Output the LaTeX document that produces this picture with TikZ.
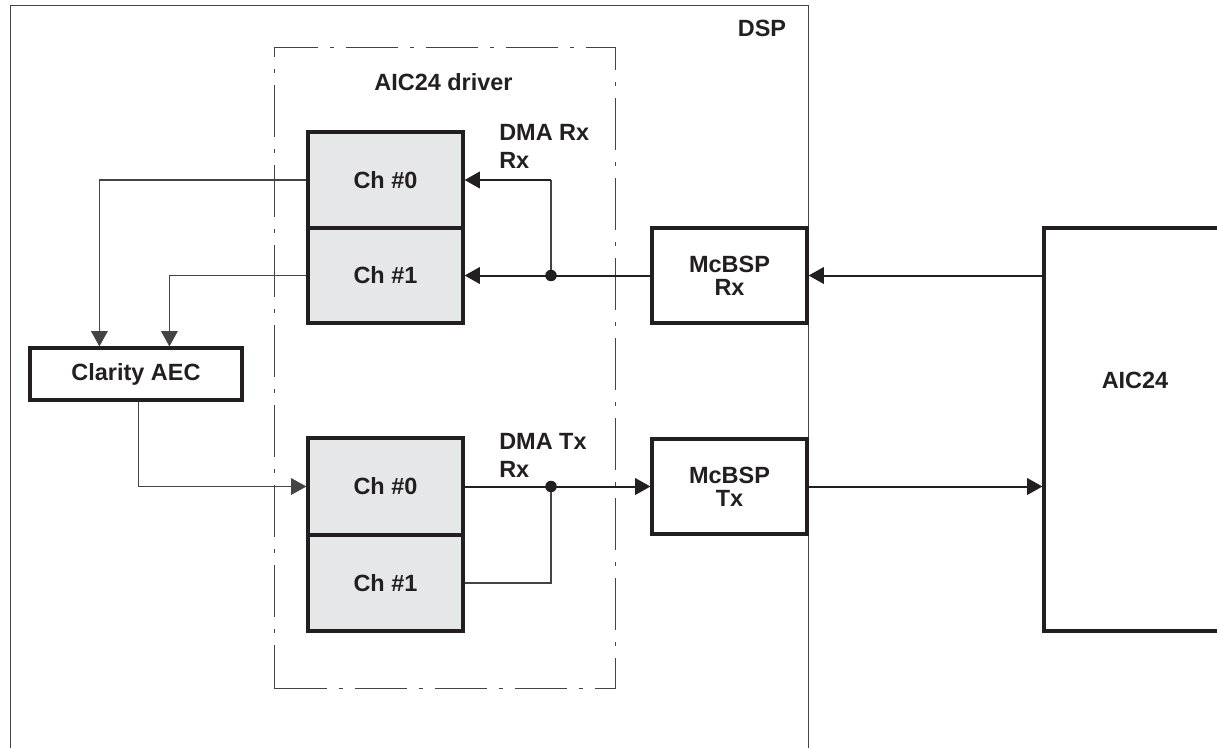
\documentclass[tikz,border=0pt]{standalone}
\usepackage{fontspec}
\setmainfont{Liberation Sans}
\usetikzlibrary{arrows.meta,calc}
\definecolor{ink}{HTML}{231F20}
\definecolor{chfill}{HTML}{E6E7E8}
\definecolor{lgray}{HTML}{444444}
\begin{document}
\begin{tikzpicture}[x=0.75pt,y=-0.75pt,
  font=\fontsize{17.6}{17.5}\selectfont\bfseries,
  box/.style={draw=ink,line width=2.4pt,inner sep=0pt,align=center,text=ink},
  chbox/.style={box,fill=chfill,minimum width={155*0.75pt}},
  mcbox/.style={box,fill=white,minimum width={155*0.75pt}},
  container/.style={draw=lgray,line width=0.8pt,inner sep=0pt},
  driverbox/.style={draw=lgray,line width=0.8pt,inner sep=0pt,dash pattern=on 39pt off 9pt on 3pt off 9pt},
  lbl/.style={text=ink,inner sep=0pt},
  dmalbl/.style={lbl,align=left,font=\fontsize{17.6}{21}\selectfont\bfseries},
  sig/.style={draw=ink,line width=1.5pt},
  thinline/.style={draw=lgray,line width=0.8pt},
  tip/.style={-{Triangle[length=11.5pt,width=12.5pt]}},
]
\useasboundingbox (0,0) rectangle (1217,747);
\clip (0,0) rectangle (1217,747);
\fill[white] (0,0) rectangle (1217,747);

% containers
\node[container,anchor=north west,minimum width={798*0.75pt},minimum height={780*0.75pt}] (dsp) at (10,5) {};
\node[lbl] (dsplbl) at (762,28) {DSP};
\node[driverbox,anchor=north west,minimum width={341*0.75pt},minimum height={641*0.75pt}] (drv) at (274,47) {};
\node[lbl] (drvlbl) at (443.5,82) {AIC24 driver};

% channel boxes
\node[chbox,minimum height={96*0.75pt}] (rx0) at (385.5,180) {Ch \#0};
\node[chbox,minimum height={95*0.75pt}] (rx1) at (385.5,275.5) {Ch \#1};
\node[chbox,minimum height={97*0.75pt}] (tx0) at (385.5,486.5) {Ch \#0};
\node[chbox,minimum height={96*0.75pt}] (tx1) at (385.5,583) {Ch \#1};

% McBSP
\node[mcbox,minimum height={95*0.75pt}] (mrx) at (729.5,275.5) {McBSP\\Rx};
\node[mcbox,minimum height={95*0.75pt}] (mtx) at (729.5,486.5) {McBSP\\Tx};

% Clarity AEC
\node[box,fill=white,minimum width={212*0.75pt},minimum height={52*0.75pt}] (aec) at (136,374) {Clarity AEC};

% AIC24
\node[box,fill=white,minimum width={182*0.75pt},minimum height={403*0.75pt}] (aic) at (1135,429.5) {};
\node[lbl] (aiclbl) at (1135,380) {AIC24};

% DMA labels (base = last line)
\node[dmalbl,anchor=base west] (dmarx) at (499,168) {DMA Rx\\Rx};
\node[dmalbl,anchor=base west] (dmatx) at (499,477) {DMA Tx\\Rx};

% AEC connectors
\draw[thinline,tip] (rx0.west) -| ($(aec.north west)+(71,0)$);
\draw[thinline,tip] (rx1.west) -| ($(aec.north west)+(141,0)$);
\draw[thinline,tip] ($(aec.south west)+(110,0)$) |- (tx0.west);

% Rx path
\coordinate (j1) at (551,275.5);
\draw[sig,tip] (aic.west |- mrx.east) -- (mrx.east);
\draw[sig,tip] (mrx.west) -- (rx1.east);
\draw[thinline] (j1) -- (j1 |- rx0.east) coordinate (c1);
\draw[sig,tip] (c1) -- (rx0.east);
\fill[ink] (j1) circle (4.3pt);

% Tx path
\coordinate (j2) at (551,486.5);
\draw[sig] (tx0.east) -- (j2);
\draw[sig,tip] (j2) -- (mtx.west);
\draw[thinline] (tx1.east) -- (j2 |- tx1.east) -- (j2);
\fill[ink] (j2) circle (4.3pt);
\draw[sig,tip] (mtx.east) -- (aic.west |- mtx.east);
\end{tikzpicture}
\end{document}
